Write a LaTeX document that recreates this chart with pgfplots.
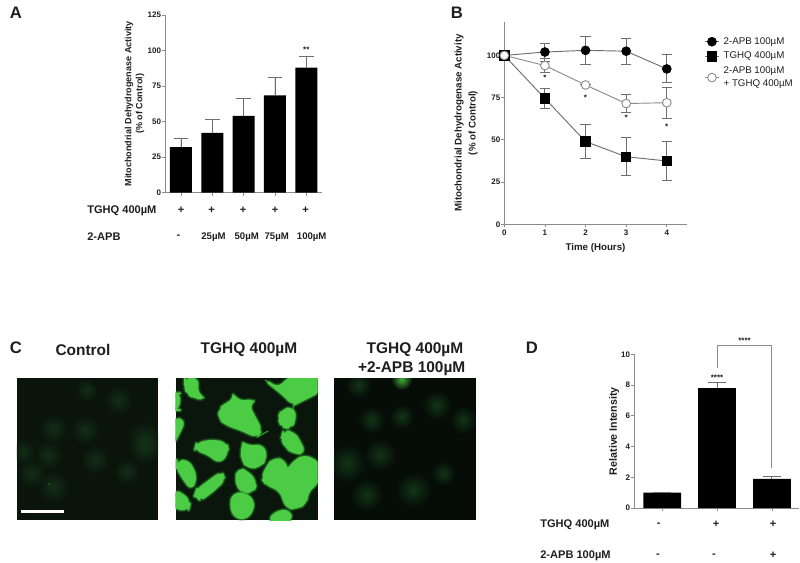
\documentclass[border=0pt]{standalone}
\usepackage{fontspec}
\setmainfont{Liberation Sans}
\usepackage{pgfplots}
\usetikzlibrary{fadings}
\pgfplotsset{compat=1.18}
\definecolor{axgray}{HTML}{8C8C8C}
\definecolor{errgray}{HTML}{6E6E6E}
\definecolor{txt}{HTML}{1E1E1E}
\definecolor{cellg}{HTML}{4CCB45}
\definecolor{celld}{HTML}{2A9A2C}
\definecolor{bgA}{HTML}{0A140B}
\definecolor{glowA}{HTML}{15331A}
\definecolor{bgB}{HTML}{0A160B}
\definecolor{bgC}{HTML}{060C07}
\definecolor{glowC}{HTML}{143C1A}
\tikzfading[name=softblob, inner color=transparent!15, outer color=transparent!100]
\newcommand\fnt[1]{\bfseries\fontsize{#1}{#1}\selectfont}
\newcommand\fnts[2]{\bfseries\fontsize{#1}{#2}\selectfont}
\pgfplotsset{fig/.style={
    scale only axis, clip=false,
    axis x line*=bottom, axis y line*=left,
    axis line style={draw=axgray, line width=.7pt},
    tick style={draw=axgray, line width=.6pt},
    tick align=outside, major tick length=2.2pt,
    /pgf/number format/assume math mode=true,
    tick label style={font=\fnt{6}, text=txt},
    yticklabel style={inner sep=.6pt},
    xticklabel style={inner sep=2pt},
    label style={font=\fnts{6.8}{8.3}, text=txt, align=center},
    xtick pos=bottom, ytick pos=left,
}}
% cell outline, soft edge + solid body
\newcommand\cell[1]{%
  \fill[celld, draw=celld, opacity=.3, line width=4pt, line join=round, rounded corners=5pt] #1 -- cycle;
  \fill[celld, draw=celld, opacity=.6, line width=2.4pt, line join=round, rounded corners=5pt] #1 -- cycle;
  \fill[cellg, draw=cellg, line width=1.2pt, line join=round, rounded corners=5pt] #1 -- cycle;}
\begin{document}
\begin{tikzpicture}[x=0.75pt,y=-0.75pt]
\path[use as bounding box] (0,0) rectangle (800,563);
\coordinate (oa) at (165,192.7);
\coordinate (ob) at (504.3,224.3);
\coordinate (od) at (634,508);

% ---- panel letters
\node[font=\fnt{12.5},text=txt] at (16,13) {A};
\node[font=\fnt{12.5},text=txt] at (457,13) {B};
\node[font=\fnt{12.5},text=txt] at (16,348) {C};
\node[font=\fnt{12.5},text=txt] at (532,348) {D};

% ---- A
\begin{axis}[fig, at={(oa)}, anchor=south west, width=117.75pt, height=133.3pt,
    ymin=0, ymax=125, ytick={0,25,50,75,100,125},
    xmin=-0.51, xmax=4.5, xtick={0,1,2,3,4}, xticklabels={},
    ybar, bar width=16.5pt,
    ylabel={Mitochondrial Dehydrogenase Activity\\(\% of Control)},
    ylabel style={at={(axis description cs:-0.194,0.5)},anchor=center}]
  \addplot[fill=black, draw=none,
    error bars/.cd, y dir=plus, y explicit,
    error bar style={draw=errgray, line width=.7pt},
    error mark options={rotate=90, draw=errgray, mark size=5.6pt, line width=.7pt}]
    coordinates {(0,32) +- (0,6) (1,42) +- (0,9.5) (2,54) +- (0,12) (3,68.5) +- (0,12.5) (4,88) +- (0,7.5)};
  \node[font=\fnt{6},text=txt] at (axis cs:4,100.5) {**};
\end{axis}
\node[anchor=west,font=\fnt{8.3},text=txt] at (82.6,211) {TGHQ 400µM};
\node[anchor=west,font=\fnt{8.3},text=txt] at (82.6,237) {2-APB};
\foreach \x in {181,211.5,243,275,305.7} \node[font=\fnt{8.3},text=txt] at (\x,210.5) {+};
\node[font=\fnt{8.3},text=txt] at (178.5,237) {-};
\node[font=\fnt{7.2},text=txt] at (213.5,237.5) {25µM};
\node[font=\fnt{7.2},text=txt] at (246.7,237.5) {50µM};
\node[font=\fnt{7.2},text=txt] at (276.7,237.5) {75µM};
\node[font=\fnt{7.2},text=txt] at (311.7,237.5) {100µM};

% ---- B
\begin{axis}[fig, at={(ob)}, anchor=south west, width=136.8pt, height=152pt,
    ymin=0, ymax=120, ytick={0,25,50,75,100},
    xmin=0, xmax=4.49, xtick={0,1,2,3,4},
    xlabel={Time (Hours)},
    xlabel style={font=\fnt{7.3},at={(axis description cs:0.5,-0.117)},anchor=center},
    ylabel={Mitochondrial Dehydrogenase Activity\\(\% of Control)},
    ylabel style={font=\fnts{7.3}{10.5},at={(axis description cs:-0.21,0.5)},anchor=center},
    legend style={at={(axis description cs:1.073,0.945)},anchor=north west,draw=none,fill=none,
      font=\fnts{7.3}{9.8}\mdseries,text=txt,nodes={align=left,inner ysep=1.2pt,inner xsep=3pt},row sep=2pt},
    legend cell align=left,
    legend image code/.code={\draw[mark repeat=2,mark phase=2,#1] plot coordinates {(0cm,0cm)(0.19cm,0cm)(0.38cm,0cm)};},
    error bars/error bar style={draw=errgray, line width=.7pt},
    error bars/error mark options={rotate=90, draw=errgray, mark size=3.8pt, line width=.7pt}]
  \addplot[draw=errgray, line width=.7pt, mark=*, mark size=3.25pt, mark options={fill=black,draw=black},
    error bars/.cd, y dir=both, y explicit]
    coordinates {(0,100) +- (0,0) (1,102) +- (0,5.3) (2,103) +- (0,8.5) (3,102.5) +- (0,7.8) (4,92) +- (0,8.3)};
  \addlegendentry{2-APB 100µM}
  \addplot[draw=errgray, line width=.7pt, mark=square*, mark size=3.5pt, mark options={fill=black,draw=black},
    error bars/.cd, y dir=both, y explicit]
    coordinates {(0,100) +- (0,0) (1,74.5) +- (0,5.7) (2,49) +- (0,10) (3,40) +- (0,11.2) (4,37.5) +- (0,11.5)};
  \addlegendentry{TGHQ 400µM}
  \addplot[draw=axgray, line width=.7pt, mark=*, mark size=3.25pt, mark options={fill=white,draw=axgray},
    error bars/.cd, y dir=both, y explicit]
    coordinates {(0,100) +- (0,0) (1,94) +- (0,4) (2,82.5) +- (0,0) (3,71.5) +- (0,5.2) (4,72) +- (0,9.2)};
  \addlegendentry{2-APB 100µM\\+ TGHQ 400µM}
  \node[font=\fnt{6},text=txt] at (axis cs:1,87) {*};
  \node[font=\fnt{6},text=txt] at (axis cs:2,75) {*};
  \node[font=\fnt{6},text=txt] at (axis cs:3,63) {*};
  \node[font=\fnt{6},text=txt] at (axis cs:4,58) {*};
\end{axis}

% ---- C titles
\node[font=\fnt{11.6},text=txt] at (83,350) {Control};
\node[font=\fnt{11.6},text=txt] at (249,350) {TGHQ 400µM};
\node[font=\fnt{11.6},text=txt] at (415,350) {TGHQ 400µM};
\node[font=\fnt{11.6},text=txt] at (411.7,368.5) {+2-APB 100µM};

% ---- C micrographs (sketched, coordinates in 1/3 px)
\begin{scope}[x=0.25pt,y=-0.25pt,shift={(0pt,-247.5pt)}]
  \fill[bgA] (50,145) rectangle (475,570);
  \begin{scope}
    \clip (50,145) rectangle (475,570);
    \foreach \a/\b/\r in {355/210/45,435/325/55,435/355/50,160/295/45,255/300/45,285/390/45,70/365/40,145/375/45,95/430/45,380/425/40,260/180/35,160/470/50}
      \fill[glowA, path fading=softblob] (\a,\b) circle (\r);
    \fill[green!70!black] (148,462) circle (2.5);
    \fill[white] (62,541) rectangle (193,548);
  \end{scope}
  \fill[bgB] (527,145) rectangle (953,570);
  \begin{scope}
    \clip (527,145) rectangle (953,570);
    \draw[celld, line width=.9pt] (700,195) -- (722,215) (770,322) -- (805,303) (795,150) -- (840,182) (590,190) -- (615,205) (880,225) -- (880,240);
    \cell{(555,145)--(595,145)--(590,190)--(612,205)--(585,205)--(560,190)--(555,165)}
    \cell{(520,190)--(540,190)--(535,240)--(520,240)}
    \cell{(520,265)--(555,270)--(535,315)--(520,340)}
    \cell{(795,150)--(835,175)--(870,140)--(960,140)--(960,185)--(900,215)--(880,225)--(845,190)--(825,175)}
    \cell{(700,195)--(715,215)--(765,210)--(745,225)--(785,300)--(770,322)--(725,300)--(680,285)--(655,265)--(660,235)--(680,220)--(700,215)}
    \cell{(845,240)--(880,232)--(888,270)--(870,295)--(845,290)--(835,265)}
    \cell{(850,305)--(880,305)--(900,335)--(915,370)--(880,370)--(855,350)--(845,325)}
    \cell{(590,340)--(640,330)--(680,340)--(685,365)--(660,400)--(620,370)--(585,360)}
    \cell{(730,340)--(745,350)--(790,345)--(800,385)--(780,410)--(745,415)--(725,390)--(725,360)}
    \cell{(530,395)--(565,390)--(590,440)--(575,480)--(545,440)--(530,410)}
    \cell{(590,480)--(665,425)--(675,450)--(625,495)--(600,510)--(585,495)}
    \cell{(715,415)--(745,425)--(770,460)--(760,485)--(725,490)--(705,450)}
    \cell{(820,385)--(855,390)--(860,425)--(880,395)--(915,375)--(960,400)--(960,450)--(920,490)--(920,520)--(890,535)--(860,535)--(840,480)--(800,465)--(785,445)--(800,410)}
    \cell{(520,485)--(550,490)--(570,520)--(565,540)--(520,535)}
    \cell{(700,490)--(740,490)--(765,520)--(745,565)--(705,565)--(690,525)}
    \cell{(805,575)--(825,545)--(870,540)--(875,575)}
  \end{scope}
  \fill[bgC] (1002,145) rectangle (1427,570);
  \begin{scope}
    \clip (1002,145) rectangle (1427,570);
    \foreach \a/\b/\r in {1075/165/40,1310/225/45,1115/270/42,1390/270/42,1205/260/38,1040/400/60,1240/480/55,1100/495/50,1140/375/50,1330/430/38}
      \fill[glowC, path fading=softblob] (\a,\b) circle (\r);
    \fill[cellg, path fading=softblob] (1205,148) circle (32);
  \end{scope}
\end{scope}

% ---- D
\begin{axis}[fig, at={(od)}, anchor=south west, width=124pt, height=115.3pt,
    ymin=0, ymax=10, ytick={0,2,4,6,8,10},
    xmin=-0.516, xmax=2.5, xtick={0,1,2}, xticklabels={},
    ybar, bar width=28.3pt,
    ylabel={Relative Intensity},
    ylabel style={font=\fnt{8},at={(axis description cs:-0.121,0.5)},anchor=center}]
  \addplot[fill=black, draw=none,
    error bars/.cd, y dir=plus, y explicit,
    error bar style={draw=errgray, line width=.7pt},
    error mark options={rotate=90, draw=errgray, mark size=6.9pt, line width=.7pt}]
    coordinates {(0,1) +- (0,0) (1,7.8) +- (0,0.35) (2,1.9) +- (0,0.12)};
  \draw[axgray, line width=.7pt] (axis cs:1,9.1) -- (axis cs:1,10.54) -- (axis cs:2,10.54) -- (axis cs:2,2.6);
  \node[font=\fnt{6},text=txt] at (axis cs:1,8.45) {****};
  \node[font=\fnt{6},text=txt] at (axis cs:1.5,10.85) {****};
\end{axis}
\node[anchor=west,font=\fnt{8.3},text=txt] at (535.6,525) {TGHQ 400µM};
\node[anchor=west,font=\fnt{8.3},text=txt] at (535.6,556) {2-APB 100µM};
\foreach \x/\s in {658.7/-,716/+,773/+} \node[font=\fnt{8.3},text=txt] at (\x,524.5) {\s};
\foreach \x/\s in {658/-,714/-,773/+} \node[font=\fnt{8.3},text=txt] at (\x,555.5) {\s};
\end{tikzpicture}
\end{document}
